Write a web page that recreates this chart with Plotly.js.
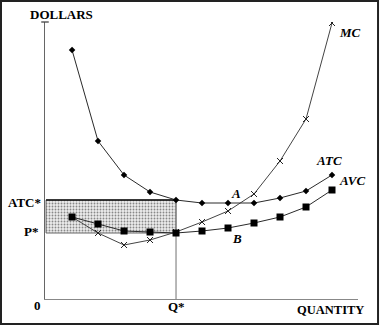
<!DOCTYPE html>
<html><head><meta charset="utf-8">
<script src="https://cdn.plot.ly/plotly-3.0.1.min.js"></script>
<style>html,body{margin:0;padding:0;background:#fff;}</style>
</head><body><div id="chart" style="width:380px;height:327px;"></div>
<script>
const quantity = [1,2,3,4,5,6,7,8,9,10,11];
const atc = [24.9,15.8,12.4,10.7,9.9,9.6,9.6,9.6,10.1,10.8,12.4];
const avc = [8.2,7.5,6.8,6.7,6.6,6.8,7.1,7.6,8.2,9.2,10.9];
const mc  = [8.2,6.6,5.4,5.9,6.7,7.7,8.8,10.5,13.8,18.0,27.6];
const qStar = 5;
const atcStar = atc[qStar-1];
const pStar = avc[qStar-1];

const serif = "Liberation Serif, Times New Roman, serif";
const lineCol = '#2a2a2a';
const bold = (size, italic) => ({family:serif, size:size, color:'#000', weight:'bold', style: italic ? 'italic' : 'normal'});

const traces = [
  {x:[0,qStar,qStar,0,0], y:[pStar,pStar,atcStar,atcStar,pStar], mode:'lines', fill:'toself',
   fillcolor:'#e8e8e8', fillpattern:{shape:'.', fgcolor:'#888', bgcolor:'#ececec', size:3, solidity:0.3},
   line:{color:'#666', width:1}, hoverinfo:'skip'},
  {x:[qStar,qStar], y:[0,atcStar], mode:'lines', line:{color:'#888', width:1.2}, hoverinfo:'skip'},
  {x:[0,qStar], y:[atcStar,atcStar], mode:'lines', line:{color:'#111', width:1.3}, hoverinfo:'skip'},
  {x:quantity, y:mc, mode:'lines+markers', line:{color:'#444', width:1},
   marker:{symbol:'x-thin', size:6, line:{color:'#222', width:1}}},
  {x:quantity, y:atc, mode:'lines+markers', line:{color:lineCol, width:1},
   marker:{symbol:'diamond', size:5, color:'#000'}},
  {x:quantity, y:avc, mode:'lines+markers', line:{color:lineCol, width:1},
   marker:{symbol:'square', size:7, color:'#000'}}
];

const ann = (text, x, y, opts={}) => Object.assign({text, x, y, xref:'x', yref:'y', showarrow:false,
  font:bold(13, true)}, opts);

const layout = {
  width:380, height:327,
  margin:{l:45, r:22, t:22, b:28},
  paper_bgcolor:'#fff', plot_bgcolor:'#fff',
  showlegend:false,
  xaxis:{range:[-0.04,12.0], showgrid:false, zeroline:false, showticklabels:false, ticks:'',
         showline:true, linecolor:'#888', linewidth:1.3, fixedrange:true},
  yaxis:{range:[0,27.7], showgrid:false, zeroline:false, showticklabels:false, ticks:'',
         showline:true, linecolor:'#666', linewidth:1.3, fixedrange:true},
  shapes:[
    {type:'rect', xref:'paper', yref:'paper', x0:-0.1406, x1:1.064, y0:-0.0903, y1:1.0758,
     line:{color:'#222', width:2}},
    {type:'line', xref:'paper', yref:'paper', x0:-0.012, x1:0.012, y0:1, y1:1, line:{color:'#444', width:1.3}}
  ],
  annotations:[
    {text:'DOLLARS', xref:'paper', yref:'paper', x:0.053, y:1.0253, xanchor:'center', yanchor:'middle', showarrow:false,
     font:bold(13)},
    {text:'QUANTITY', xref:'paper', yref:'paper', x:0.911, y:-0.0397, xanchor:'center', yanchor:'middle', showarrow:false,
     font:bold(12.5)},
    {text:'0', xref:'paper', yref:'paper', x:-0.023, y:-0.0217, xanchor:'center', yanchor:'middle', showarrow:false,
     font:bold(13)},
    {text:'Q*', xref:'x', yref:'paper', x:qStar, y:-0.0253, xanchor:'center', yanchor:'middle', showarrow:false,
     font:bold(13)},
    {text:'ATC*', xref:'paper', yref:'y', x:-0.005, y:atcStar-0.2, xanchor:'right', yanchor:'middle', showarrow:false,
     font:bold(13)},
    {text:'P*', xref:'paper', yref:'y', x:-0.015, y:pStar+0.2, xanchor:'right', yanchor:'middle', showarrow:false,
     font:bold(13)},
    ann('MC', 11.2, mc[10]-0.9, {xanchor:'left'}),
    ann('ATC', 10.9, atc[10]+1.5, {xanchor:'center'}),
    ann('AVC', 11.2, avc[10]+1.0, {xanchor:'left'}),
    ann('A', 7.3, 10.6, {xanchor:'center'}),
    ann('B', 7.35, 6.1, {xanchor:'center'})
  ]
};

Plotly.newPlot('chart', traces, layout, {displayModeBar:false, staticPlot:true});
</script>
</body></html>
